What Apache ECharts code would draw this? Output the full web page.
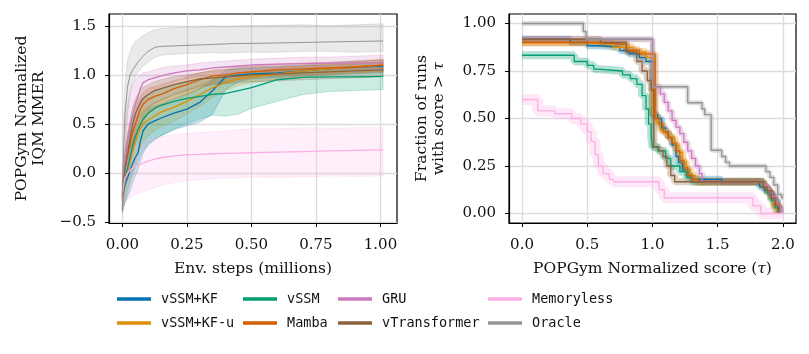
<!DOCTYPE html>
<html>
<head>
<meta charset="utf-8">
<script src="https://cdn.jsdelivr.net/npm/echarts@6/dist/echarts.min.js"></script>
<style>
html, body { margin: 0; padding: 0; background: #fff; }
#chart { width: 809px; height: 354px; }
</style>
</head>
<body>
<div id="chart"></div>
<script>
// left panel: IQM curves over env. steps (millions)
const steps = [0, 0.005, 0.01, 0.02, 0.03, 0.04, 0.05, 0.06, 0.07, 0.08, 0.1, 0.125, 0.15, 0.2, 0.25, 0.3, 0.35, 0.4, 0.45, 0.5, 0.6, 0.7, 0.8, 0.9, 1.01]

const kfMean = [-0.24, -0.18, -0.12, -0.05, 0.03, 0.1, 0.16, 0.2, 0.33, 0.43, 0.5, 0.53, 0.56, 0.61, 0.65, 0.72, 0.84, 0.98, 1.0, 1.01, 1.02, 1.04, 1.06, 1.08, 1.09]
const kfHi = [-0.1, -0.02, 0.05, 0.15, 0.25, 0.32, 0.38, 0.42, 0.5, 0.58, 0.65, 0.68, 0.7, 0.75, 0.8, 0.86, 0.95, 1.05, 1.07, 1.08, 1.09, 1.1, 1.12, 1.14, 1.15]
const kfLo = [-0.4, -0.35, -0.3, -0.25, -0.18, -0.1, -0.03, 0.03, 0.12, 0.2, 0.3, 0.34, 0.38, 0.44, 0.48, 0.52, 0.6, 0.85, 0.93, 0.96, 0.97, 0.99, 1.0, 1.01, 1.02]

const kfuMean = [-0.25, -0.15, -0.08, 0.02, 0.12, 0.22, 0.32, 0.4, 0.45, 0.5, 0.54, 0.58, 0.62, 0.67, 0.73, 0.8, 0.87, 0.92, 0.96, 0.98, 1.01, 1.04, 1.06, 1.08, 1.1]
const kfuHi = [-0.12, 0.0, 0.08, 0.2, 0.32, 0.42, 0.5, 0.56, 0.6, 0.64, 0.68, 0.72, 0.75, 0.8, 0.85, 0.9, 0.95, 0.99, 1.02, 1.04, 1.07, 1.09, 1.11, 1.13, 1.15]
const kfuLo = [-0.38, -0.3, -0.24, -0.15, -0.06, 0.02, 0.12, 0.2, 0.26, 0.32, 0.38, 0.43, 0.47, 0.53, 0.6, 0.68, 0.77, 0.84, 0.89, 0.92, 0.95, 0.98, 1.0, 1.02, 1.04]

const ssmMean = [-0.24, -0.15, -0.05, 0.05, 0.17, 0.28, 0.37, 0.44, 0.5, 0.55, 0.61, 0.66, 0.69, 0.73, 0.76, 0.78, 0.8, 0.81, 0.84, 0.87, 0.95, 0.975, 0.98, 0.98, 0.985]
const ssmHi = [-0.1, 0.0, 0.1, 0.3, 0.45, 0.55, 0.62, 0.68, 0.72, 0.76, 0.8, 0.84, 0.86, 0.9, 0.93, 0.95, 0.97, 0.98, 1.0, 1.02, 1.05, 1.06, 1.07, 1.07, 1.08]
const ssmLo = [-0.4, -0.35, -0.3, -0.2, -0.1, -0.02, 0.05, 0.12, 0.18, 0.23, 0.28, 0.34, 0.38, 0.45, 0.5, 0.55, 0.59, 0.58, 0.6, 0.66, 0.73, 0.8, 0.83, 0.84, 0.85]

const mambaMean = [-0.22, -0.05, 0.05, 0.18, 0.3, 0.42, 0.5, 0.58, 0.65, 0.7, 0.75, 0.78, 0.8, 0.86, 0.9, 0.95, 0.99, 1.0, 1.02, 1.03, 1.05, 1.06, 1.07, 1.08, 1.1]
const mambaHi = [-0.1, 0.1, 0.22, 0.38, 0.5, 0.6, 0.67, 0.73, 0.78, 0.82, 0.86, 0.88, 0.9, 0.94, 0.98, 1.02, 1.05, 1.06, 1.08, 1.09, 1.11, 1.12, 1.13, 1.14, 1.16]
const mambaLo = [-0.36, -0.22, -0.12, 0.0, 0.1, 0.2, 0.3, 0.38, 0.45, 0.52, 0.6, 0.65, 0.69, 0.76, 0.8, 0.86, 0.91, 0.93, 0.95, 0.97, 0.99, 1.0, 1.01, 1.02, 1.03]

const gruMean = [-0.25, -0.1, 0.1, 0.33, 0.48, 0.6, 0.7, 0.78, 0.86, 0.92, 0.95, 0.97, 0.99, 1.02, 1.04, 1.05, 1.07, 1.08, 1.09, 1.1, 1.11, 1.115, 1.12, 1.12, 1.125]
const gruHi = [-0.1, 0.2, 0.45, 0.7, 0.82, 0.9, 0.95, 0.98, 1.0, 1.02, 1.03, 1.05, 1.07, 1.09, 1.1, 1.12, 1.13, 1.14, 1.15, 1.16, 1.17, 1.18, 1.18, 1.19, 1.2]
const gruLo = [-0.38, -0.3, -0.15, 0.0, 0.15, 0.3, 0.45, 0.55, 0.65, 0.72, 0.8, 0.85, 0.88, 0.93, 0.96, 0.98, 1.0, 1.01, 1.02, 1.03, 1.04, 1.05, 1.05, 1.06, 1.06]

const transMean = [-0.22, -0.08, 0.05, 0.2, 0.36, 0.5, 0.6, 0.66, 0.72, 0.76, 0.8, 0.84, 0.86, 0.9, 0.93, 0.96, 0.97, 0.98, 0.99, 1.0, 1.01, 1.02, 1.03, 1.04, 1.05]
const transHi = [-0.1, 0.08, 0.22, 0.4, 0.55, 0.67, 0.75, 0.8, 0.84, 0.87, 0.9, 0.93, 0.95, 0.98, 1.0, 1.02, 1.04, 1.05, 1.06, 1.07, 1.08, 1.09, 1.1, 1.11, 1.12]
const transLo = [-0.35, -0.25, -0.12, 0.0, 0.15, 0.3, 0.4, 0.48, 0.55, 0.6, 0.66, 0.71, 0.74, 0.8, 0.84, 0.88, 0.9, 0.91, 0.92, 0.93, 0.94, 0.95, 0.96, 0.97, 0.98]

const memMean = [-0.2, -0.12, -0.05, 0.0, 0.03, 0.05, 0.07, 0.08, 0.09, 0.1, 0.12, 0.14, 0.155, 0.175, 0.185, 0.19, 0.196, 0.2, 0.203, 0.206, 0.212, 0.218, 0.225, 0.23, 0.236]
const memHi = [-0.05, 0.1, 0.15, 0.2, 0.24, 0.27, 0.29, 0.3, 0.31, 0.32, 0.34, 0.36, 0.37, 0.39, 0.4, 0.41, 0.42, 0.43, 0.44, 0.45, 0.45, 0.46, 0.455, 0.46, 0.46]
const memLo = [-0.35, -0.32, -0.3, -0.27, -0.25, -0.24, -0.22, -0.21, -0.2, -0.19, -0.17, -0.15, -0.13, -0.1, -0.08, -0.07, -0.06, -0.05, -0.05, -0.04, -0.045, -0.04, -0.03, -0.035, -0.03]

const oracleMean = [-0.25, 0.25, 0.6, 0.88, 1.0, 1.05, 1.09, 1.13, 1.16, 1.19, 1.24, 1.28, 1.29, 1.295, 1.3, 1.305, 1.31, 1.315, 1.32, 1.32, 1.325, 1.33, 1.335, 1.34, 1.345]
const oracleHi = [-0.1, 0.6, 0.9, 1.15, 1.24, 1.3, 1.34, 1.36, 1.38, 1.4, 1.43, 1.46, 1.47, 1.48, 1.49, 1.485, 1.5, 1.49, 1.5, 1.5, 1.505, 1.51, 1.5, 1.51, 1.52]
const oracleLo = [-0.4, -0.1, 0.2, 0.6, 0.82, 0.92, 0.98, 1.02, 1.06, 1.09, 1.13, 1.18, 1.2, 1.21, 1.22, 1.22, 1.23, 1.22, 1.23, 1.23, 1.23, 1.24, 1.24, 1.23, 1.24]

// right panel: performance profiles (tau breakpoints, fraction of runs > tau)
const kfTau = [0, 0.37, 0.5, 0.58, 0.75, 0.82, 0.9, 0.95, 1.0, 1.04, 1.07, 1.1, 1.12, 1.15, 1.18, 1.2, 1.23, 1.27, 1.3, 1.53, 1.82, 1.86, 1.9, 1.93, 1.96, 1.98]
const kfFrac = [0.917, 0.9, 0.883, 0.875, 0.857, 0.84, 0.82, 0.8, 0.52, 0.5, 0.45, 0.43, 0.4, 0.36, 0.3, 0.27, 0.23, 0.2, 0.18, 0.167, 0.14, 0.12, 0.1, 0.07, 0.03, 0.0]
const kfuTau = [0, 0.5, 0.7, 0.85, 0.95, 1.0, 1.03, 1.06, 1.1, 1.13, 1.17, 1.2, 1.23, 1.26, 1.29, 1.33, 1.85, 1.88, 1.91, 1.93, 1.95]
const kfuFrac = [0.9, 0.89, 0.875, 0.85, 0.82, 0.52, 0.48, 0.44, 0.42, 0.4, 0.36, 0.32, 0.27, 0.23, 0.2, 0.167, 0.14, 0.11, 0.08, 0.03, 0.0]
const ssmTau = [0, 0.4, 0.5, 0.55, 0.58, 0.77, 0.83, 0.88, 0.92, 0.95, 0.97, 0.99, 1.0, 1.04, 1.1, 1.14, 1.21, 1.26, 1.3, 1.85, 1.88, 1.91, 1.94, 1.96]
const ssmFrac = [0.833, 0.8, 0.78, 0.76, 0.75, 0.73, 0.71, 0.68, 0.62, 0.55, 0.47, 0.4, 0.35, 0.33, 0.29, 0.25, 0.22, 0.19, 0.167, 0.14, 0.11, 0.07, 0.03, 0.0]
const mambaTau = [0, 0.4, 0.6, 0.8, 0.9, 1.02, 1.05, 1.08, 1.12, 1.15, 1.18, 1.21, 1.24, 1.27, 1.3, 1.35, 1.85, 1.88, 1.91, 1.94, 1.97]
const mambaFrac = [0.9, 0.9, 0.89, 0.86, 0.84, 0.5, 0.47, 0.43, 0.4, 0.37, 0.33, 0.28, 0.24, 0.2, 0.18, 0.167, 0.14, 0.12, 0.09, 0.05, 0.0]
const gruTau = [0, 1.0, 1.06, 1.09, 1.12, 1.15, 1.18, 1.21, 1.24, 1.27, 1.3, 1.33, 1.36, 1.38, 1.85, 1.88, 1.9, 1.92, 1.94, 1.96, 1.98]
const gruFrac = [0.917, 0.667, 0.63, 0.585, 0.54, 0.49, 0.455, 0.42, 0.375, 0.33, 0.29, 0.25, 0.21, 0.167, 0.15, 0.13, 0.11, 0.09, 0.07, 0.04, 0.0]
const transTau = [0, 0.6, 0.8, 0.88, 0.92, 0.96, 0.99, 1.01, 1.05, 1.08, 1.11, 1.14, 1.17, 1.85, 1.88, 1.91, 1.94, 1.97]
const transFrac = [0.917, 0.9, 0.85, 0.8, 0.75, 0.7, 0.65, 0.35, 0.33, 0.3, 0.25, 0.2, 0.167, 0.14, 0.12, 0.08, 0.04, 0.0]
const memTau = [0, 0.12, 0.25, 0.38, 0.45, 0.5, 0.53, 0.56, 0.585, 0.62, 0.67, 0.7, 1.05, 1.09, 1.77, 1.83, 2.0]
const memFrac = [0.6, 0.54, 0.525, 0.5, 0.47, 0.43, 0.38, 0.31, 0.25, 0.21, 0.18, 0.167, 0.125, 0.083, 0.04, 0.0, 0.0]
const oracleTau = [0, 0.47, 0.49, 1.0, 1.27, 1.38, 1.4, 1.45, 1.53, 1.56, 1.59, 1.87, 1.9, 1.93, 1.96, 1.99, 2.0]
const oracleFrac = [1.0, 0.958, 0.917, 0.667, 0.583, 0.55, 0.52, 0.333, 0.3, 0.27, 0.25, 0.22, 0.19, 0.15, 0.1, 0.083, 0.083]

const methods = [
  { name: 'vSSM+KF', color: '#0173b2', mean: kfMean, lo: kfLo, hi: kfHi, tau: kfTau, frac: kfFrac, band: 7 },
  { name: 'vSSM+KF-u', color: '#de8f05', mean: kfuMean, lo: kfuLo, hi: kfuHi, tau: kfuTau, frac: kfuFrac, band: 8 },
  { name: 'vSSM', color: '#029e73', mean: ssmMean, lo: ssmLo, hi: ssmHi, tau: ssmTau, frac: ssmFrac, band: 8 },
  { name: 'Mamba', color: '#d55e00', mean: mambaMean, lo: mambaLo, hi: mambaHi, tau: mambaTau, frac: mambaFrac, band: 7 },
  { name: 'GRU', color: '#cc78bc', mean: gruMean, lo: gruLo, hi: gruHi, tau: gruTau, frac: gruFrac, band: 6 },
  { name: 'vTransformer', color: '#8c613c', mean: transMean, lo: transLo, hi: transHi, tau: transTau, frac: transFrac, band: 7 },
  { name: 'Memoryless', color: '#fbafe4', mean: memMean, lo: memLo, hi: memHi, tau: memTau, frac: memFrac, band: 11 },
  { name: 'Oracle', color: '#949494', mean: oracleMean, lo: oracleLo, hi: oracleHi, tau: oracleTau, frac: oracleFrac, band: 5 }
]

const serif = 'DejaVu Serif'
const mono = 'DejaVu Sans Mono'

function zip (xs, ys) {
  return xs.map((x, i) => [x, ys[i]])
}

let series = []
methods.forEach((m) => {
  // confidence band (left)
  series.push({
    type: 'custom',
    name: m.name + ' band',
    xAxisIndex: 0,
    yAxisIndex: 0,
    z: 1,
    silent: true,
    clip: true,
    data: [[steps[0], m.lo[0]]],
    renderItem: function (params, api) {
      let pts = []
      for (let i = 0; i < steps.length; i++) pts.push(api.coord([steps[i], m.hi[i]]))
      for (let i = steps.length - 1; i >= 0; i--) pts.push(api.coord([steps[i], m.lo[i]]))
      return {
        type: 'polygon',
        shape: { points: pts },
        style: { fill: m.color, fillOpacity: 0.2, stroke: m.color, strokeOpacity: 0.3, lineWidth: 0.8 }
      }
    }
  })
  series.push({
    type: 'line',
    name: m.name,
    xAxisIndex: 0,
    yAxisIndex: 0,
    z: 3,
    color: m.color,
    symbol: 'none',
    lineStyle: { width: m.name === 'Oracle' ? 1 : 1.3, color: m.color },
    data: zip(steps, m.mean)
  })
  // right panel: band as wide translucent step line, then the line itself
  series.push({
    type: 'line',
    name: m.name + ' ci',
    xAxisIndex: 1,
    yAxisIndex: 1,
    z: 2,
    step: 'end',
    symbol: 'none',
    silent: true,
    lineStyle: { width: m.band, color: m.color, opacity: 0.3 },
    data: zip(m.tau, m.frac)
  })
  series.push({
    type: 'line',
    name: m.name,
    xAxisIndex: 1,
    yAxisIndex: 1,
    z: 3,
    step: 'end',
    color: m.color,
    symbol: 'none',
    lineStyle: { width: 1.3, color: m.color },
    data: zip(m.tau, m.frac)
  })
})

function axisBase (ticks, fmt, margin) {
  return {
    type: 'value',
    axisLine: { show: true, onZero: false, lineStyle: { color: '#000', width: 1.2 } },
    axisTick: { show: true, length: 4, customValues: ticks, lineStyle: { color: '#000', width: 1 } },
    axisLabel: { customValues: ticks, formatter: fmt, fontFamily: serif, fontSize: 15, color: '#111', margin: margin },
    splitLine: { show: true, customValues: ticks, lineStyle: { color: '#dcdcdc', width: 1.3 } },
    nameLocation: 'middle',
    nameTextStyle: { fontFamily: serif, fontSize: 15.5, color: '#111', lineHeight: 17 }
  }
}

const minus = (v, d) => (v < 0 ? '\u2212' : '') + Math.abs(v).toFixed(d)

let legendCols = [
  { left: 112, names: ['vSSM+KF', 'vSSM+KF-u'] },
  { left: 238, names: ['vSSM', 'Mamba'] },
  { left: 333, names: ['GRU', 'vTransformer'] },
  { left: 483, names: ['Memoryless', 'Oracle'] }
]

let chart = echarts.init(document.getElementById('chart'), null, { renderer: 'canvas' })
chart.setOption({
  animation: false,
  backgroundColor: '#fff',
  grid: [
    { left: 109, top: 14, width: 288, height: 209, show: true, borderColor: '#000', borderWidth: 1.2 },
    { left: 509, top: 14, width: 287, height: 209, show: true, borderColor: '#000', borderWidth: 1.2 }
  ],
  xAxis: [
    Object.assign(axisBase([0, 0.25, 0.5, 0.75, 1.0], (v) => v.toFixed(2), 15), {
      gridIndex: 0, min: -0.052, max: 1.064, name: 'Env. steps (millions)', nameGap: 37
    }),
    Object.assign(axisBase([0, 0.5, 1.0, 1.5, 2.0], (v) => v.toFixed(1), 15), {
      gridIndex: 1, min: -0.1, max: 2.1, nameGap: 37,
      name: '{a|POPGym Normalized score (}{b|τ}{a|)}'
    })
  ],
  yAxis: [
    Object.assign(axisBase([-0.5, 0, 0.5, 1.0, 1.5], (v) => minus(v, 1), 13), {
      gridIndex: 0, min: -0.51, max: 1.62, name: 'POPGym Normalized\nIQM MMER', nameGap: 62
    }),
    Object.assign(axisBase([0, 0.25, 0.5, 0.75, 1.0], (v) => v.toFixed(2), 13), {
      gridIndex: 1, min: -0.05, max: 1.05, nameGap: 62,
      name: '{a|Fraction of runs}\n{a|with score > }{b|τ}'
    })
  ],
  legend: legendCols.map((c) => ({
    data: c.names,
    left: c.left,
    top: 287,
    orient: 'vertical',
    icon: 'rect',
    itemWidth: 34,
    itemHeight: 3.5,
    itemGap: 10,
    selectedMode: false,
    textStyle: { fontFamily: mono, fontSize: 13.5, color: '#111', padding: [0, 0, 0, 5] }
  })),
  series: series
})

// italic tau in the right panel axis names
chart.setOption({
  xAxis: [{}, { nameTextStyle: { rich: {
    a: { fontFamily: serif, fontSize: 15.5, color: '#111' },
    b: { fontFamily: serif, fontSize: 15.5, color: '#111', fontStyle: 'italic' }
  } } }],
  yAxis: [{}, { nameTextStyle: { rich: {
    a: { fontFamily: serif, fontSize: 15.5, color: '#111', lineHeight: 17 },
    b: { fontFamily: serif, fontSize: 15.5, color: '#111', fontStyle: 'italic', lineHeight: 17 }
  } } }]
})
</script>
</body>
</html>
